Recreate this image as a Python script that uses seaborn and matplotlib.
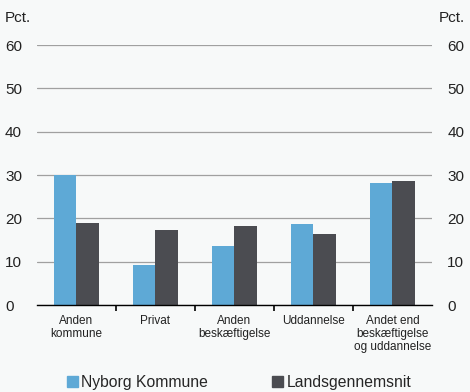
import matplotlib
matplotlib.use("Agg")
import matplotlib.pyplot as plt
import matplotlib.patches as mpatches
import seaborn as sns
import pandas as pd

categories = ["Anden\nkommune", "Privat", "Anden\nbeskæftigelse", "Uddannelse",
              "Andet end\nbeskæftigelse\nog uddannelse"]
nyborg = [30.0, 9.3, 13.6, 18.8, 28.2]
lands = [19.0, 17.3, 18.3, 16.3, 28.7]
series = ["Nyborg Kommune", "Landsgennemsnit"]
colors = ["#5ea9d6", "#4b4c51"]
yticks = [0, 10, 20, 30, 40, 50, 60]

bg = "#f7f9f9"
sns.set_theme(style="white")
plt.rcParams["font.family"] = ["Liberation Sans", "DejaVu Sans"]

df = pd.DataFrame({
    "kategori": categories * 2,
    "serie": [series[0]] * len(categories) + [series[1]] * len(categories),
    "pct": nyborg + lands,
})

fig = plt.figure(figsize=(4.7, 3.92), dpi=100, facecolor=bg)
ax = fig.add_axes([0.0787, 0.2219, 0.8404, 0.6633], facecolor=bg)

sns.barplot(data=df, x="kategori", y="pct", hue="serie", palette=colors,
            width=0.57, gap=0, saturation=1, ax=ax, legend=False,
            edgecolor="none")

ax.set_ylim(0, 60)
ax.set_xlim(-0.5, len(categories) - 0.5)
ax.set_yticks(yticks)
ax.set_yticklabels([str(v) for v in yticks])
ax.yaxis.grid(True, color="#a0a0a0", linewidth=0.9)
ax.set_axisbelow(True)
for s in ["top", "left", "right"]:
    ax.spines[s].set_visible(False)
ax.spines["bottom"].set_color("black")
ax.spines["bottom"].set_linewidth(1.0)

ax.set_xlabel("")
ax.set_ylabel("")
# left labels flush with the figure's left margin
ax.tick_params(axis="y", length=0, labelsize=11, colors="#222222", pad=23)
for lab in ax.get_yticklabels():
    lab.set_horizontalalignment("left")

# category labels centered, separators as minor ticks
ax.tick_params(axis="x", which="major", length=0, labelsize=8.5, pad=7,
               colors="#222222")
for lab in ax.get_xticklabels():
    lab.set_linespacing(1.1)
ax.set_xticks([i + 0.5 for i in range(len(categories) - 1)], minor=True)
ax.tick_params(axis="x", which="minor", length=4, width=1.2, color="black",
               direction="out", bottom=True)

# right-hand scale
ax2 = ax.twinx()
ax2.set_ylim(0, 60)
ax2.set_yticks(yticks)
ax2.set_yticklabels([str(v) for v in yticks])
ax2.tick_params(axis="y", length=0, labelsize=11, colors="#222222", pad=11)
for s in ax2.spines.values():
    s.set_visible(False)

fig.text(0.011, 0.955, "Pct.", fontsize=11, color="#222222", va="center")
fig.text(0.989, 0.955, "Pct.", fontsize=11, color="#222222", va="center",
         ha="right")

handles = [mpatches.Patch(color=c, label=l) for c, l in zip(colors, series)]
fig.legend(handles=handles, loc="center", bbox_to_anchor=(0.509, 0.025),
           ncol=2, frameon=False, fontsize=11.3, handlelength=0.7,
           handleheight=0.7, handletextpad=0.2, columnspacing=4.1)

fig.savefig("out.png", dpi=100, facecolor=bg)
